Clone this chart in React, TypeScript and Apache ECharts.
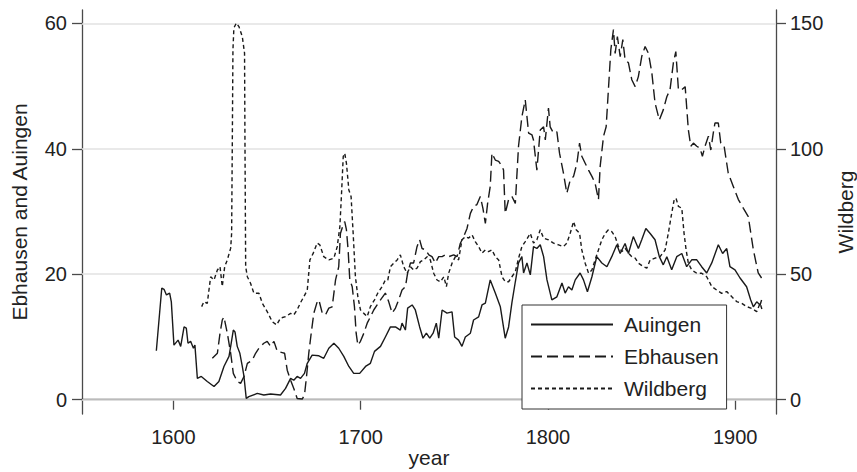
import React, { useEffect, useRef } from "react";
import * as echarts from "echarts";

// ---- Data ----
const auingen: [number, number][] = [
  [1590.9, 7.8], [1593.8, 17.8], [1595, 17.6], [1596.3, 16.7], [1598, 17.0], [1598.9, 15.6],
  [1600.3, 8.7], [1602.5, 9.5], [1603.9, 8.5], [1605.7, 11.6], [1606.9, 11.4], [1607.8, 9.0],
  [1609.2, 9.3], [1610.7, 8.2], [1611.5, 8.7], [1612.8, 3.4], [1614.9, 3.7], [1618.1, 2.9],
  [1621.7, 2.1], [1624.3, 2.9], [1627, 5.3], [1629.7, 6.9], [1630.6, 8.5], [1632, 11.1],
  [1632.9, 10.8], [1634.1, 8.5], [1635.5, 7.4], [1636.8, 5.3], [1637.7, 3.7], [1638.9, 0.2],
  [1640.3, 0.5], [1644.8, 1.0], [1648.3, 0.75], [1651.9, 0.9], [1657.2, 0.75], [1659.9, 1.8],
  [1662.6, 3.4], [1664.3, 3.1], [1666.1, 3.7], [1667.9, 3.4], [1670, 4.2], [1671.5, 5.8],
  [1674.1, 7.1], [1677.7, 7.0], [1680.3, 6.6], [1683, 8.2], [1685.7, 9.0], [1688.3, 8.2],
  [1691, 6.9], [1693.7, 5.3], [1696.3, 4.2], [1699.5, 4.2], [1702.6, 5.3], [1705.2, 5.8],
  [1707.4, 7.7], [1710.6, 8.5], [1713.2, 10.0], [1715.9, 11.6], [1718.6, 11.6], [1721.2, 11.1],
  [1722.1, 12.2], [1723.9, 11.1], [1725.1, 14.6], [1727.5, 15.1], [1729.2, 14.3], [1731.5, 11.6],
  [1733.3, 9.8], [1735.1, 10.6], [1736.9, 9.8], [1738.7, 10.6], [1740.4, 12.2], [1741.7, 9.8],
  [1743.5, 14.3], [1746.1, 13.8], [1748.8, 14.0], [1750.2, 10.0], [1752.3, 9.5], [1754.1, 8.5],
  [1755.9, 10.0], [1758.6, 10.6], [1760.3, 12.7], [1763, 13.2], [1764.8, 15.1], [1766.6, 15.4],
  [1769.2, 19.1], [1771.9, 17.0], [1774.6, 14.8], [1777.2, 9.8], [1779, 11.6], [1780.8, 15.5],
  [1782.6, 18.8], [1784.3, 21.8], [1786.1, 22.8], [1787, 20.2], [1788.8, 21.8], [1790.6, 19.9],
  [1792.3, 24.4], [1794.1, 24.1], [1795.9, 24.7], [1797.7, 22.8], [1799.5, 19.1], [1802.1, 15.9],
  [1804.8, 16.4], [1807.5, 18.6], [1809.2, 17.0], [1811, 18.0], [1812.8, 17.5], [1814.6, 19.1],
  [1817.2, 20.2], [1819, 19.1], [1821.1, 17.2], [1823.5, 19.6], [1826.1, 22.8], [1828.8, 21.8],
  [1831.5, 21.2], [1834.1, 22.8], [1836.8, 24.7], [1838.6, 23.3], [1841.2, 24.9], [1843, 23.3],
  [1845.6, 26.0], [1848.3, 24.1], [1850.1, 25.5], [1852.3, 27.3], [1854.6, 26.5], [1857.2, 25.5],
  [1859.5, 22.8], [1861.6, 21.5], [1863.5, 22.8], [1866.1, 20.7], [1868.8, 22.8], [1871.5, 23.3],
  [1874.1, 21.2], [1876.8, 22.3], [1879.5, 22.3], [1882.1, 21.2], [1884.8, 20.2], [1887.5, 21.8],
  [1891, 24.7], [1893.3, 23.3], [1895.5, 24.1], [1897.2, 21.2], [1899.9, 20.7], [1902.6, 19.4],
  [1906.1, 18.0], [1908.3, 15.9], [1909.7, 14.8], [1911.5, 15.6], [1913.3, 15.1], [1914.1, 15.9],
];

const ebhausen: [number, number][] = [
  [1620.8, 6.6], [1623.5, 7.4], [1624.9, 10.6], [1626.1, 12.7], [1627, 13.2], [1627.9, 11.9],
  [1628.8, 10.6], [1630.6, 7.4], [1632, 4.2], [1634.1, 2.9], [1635.9, 2.6], [1637.7, 3.7],
  [1639.5, 5.8], [1642.1, 6.3], [1643.9, 7.4], [1645.7, 8.2], [1648.3, 9.0], [1650.1, 9.3],
  [1651.9, 8.5], [1653.7, 9.3], [1655.5, 7.7], [1658.1, 7.5], [1659.4, 7.4], [1660.8, 4.7],
  [1662.6, 3.1], [1664.3, 1.8], [1666.1, 0.2], [1668.8, 0.1], [1670, 0.75], [1671.1, 3.7],
  [1672.3, 7.4], [1673.6, 10.6], [1675, 13.8], [1676.8, 15.6], [1677.7, 15.9], [1679.5, 13.8],
  [1681.2, 13.5], [1683, 14.6], [1684.8, 14.8], [1686.6, 19.1], [1688.3, 21.2], [1689.2, 26.5],
  [1690.7, 27.9], [1691.5, 28.4], [1692.4, 27.1], [1693.3, 23.9], [1694.2, 19.1], [1695.5, 18.0],
  [1696.7, 14.8], [1697.6, 10.6], [1698.5, 8.7], [1699.9, 9.3], [1701.7, 10.6], [1703.5, 12.2],
  [1705.2, 13.2], [1707, 14.3], [1708.8, 15.1], [1710.6, 15.9], [1713.2, 17.0], [1715, 15.6],
  [1716.8, 13.8], [1718.6, 14.6], [1720.3, 15.9], [1722.1, 17.5], [1723.9, 18.0], [1725.1, 20.2],
  [1726.6, 21.8], [1728.3, 21.8], [1730.1, 24.4], [1731.5, 25.5], [1732.8, 24.1], [1734.6, 23.9],
  [1736.4, 23.1], [1738.1, 22.8], [1739.9, 21.8], [1741.7, 22.8], [1743.5, 22.8], [1745.2, 23.1],
  [1747, 22.8], [1749.7, 23.1], [1751.5, 22.8], [1753.2, 24.9], [1755, 26.0], [1756.8, 27.3],
  [1758.6, 29.7], [1760.3, 30.8], [1762.1, 31.1], [1763.9, 32.4], [1765.3, 30.5], [1766.6, 28.1],
  [1767.8, 31.3], [1769.2, 34.0], [1770.1, 39.3], [1771.9, 38.2], [1773.7, 38.0], [1775.5, 37.2],
  [1776.3, 36.6], [1777.2, 29.7], [1779, 31.9], [1780.8, 32.4], [1782.6, 31.3], [1784.3, 40.4],
  [1786.1, 45.1], [1787.9, 47.8], [1789.7, 42.5], [1791.5, 42.2], [1792.3, 41.4], [1794.1, 36.6],
  [1795.9, 43.0], [1797.7, 43.5], [1798.6, 41.4], [1800.3, 46.5], [1801.2, 43.5], [1803, 42.5],
  [1804.8, 42.7], [1806.2, 39.3], [1808.3, 36.1], [1810.1, 32.9], [1811.9, 35.0], [1813.7, 35.6],
  [1815.5, 37.7], [1816.9, 40.9], [1818.1, 38.8], [1819.9, 37.7], [1821.7, 36.6], [1823.5, 35.6],
  [1825.2, 34.5], [1827, 31.9], [1827.9, 37.2], [1829.7, 42.0], [1831.1, 43.5], [1832.3, 49.4],
  [1833.6, 55.8], [1835, 59.0], [1835.9, 55.2], [1837.1, 57.9], [1838.6, 54.7], [1840, 57.4],
  [1841.2, 54.2], [1843, 53.7], [1844.8, 51.0], [1846.6, 49.9], [1848.3, 51.5], [1850.1, 54.7],
  [1851.9, 56.3], [1853.7, 55.2], [1855.5, 52.1], [1857.2, 47.3], [1859.5, 44.6], [1861.6, 46.2],
  [1863.5, 48.3], [1865.2, 49.4], [1867, 53.7], [1868.3, 55.5], [1869.7, 49.4], [1871.5, 49.4],
  [1873.3, 49.9], [1875, 43.0], [1876.3, 40.4], [1877.7, 40.9], [1879.5, 40.4], [1881.2, 40.1],
  [1882.5, 38.8], [1883.9, 40.4], [1885.7, 42.0], [1887, 39.8], [1888.3, 42.5], [1889.2, 44.1],
  [1891, 44.1], [1892.3, 40.9], [1894.1, 40.4], [1896.3, 36.1], [1899, 34.0], [1901.7, 31.9],
  [1904.4, 30.5], [1907, 29.2], [1909.7, 23.9], [1912.3, 20.2], [1914.1, 19.4],
];

const wildberg: [number, number][] = [
  [1615.1, 37.1], [1616.3, 39.1], [1618.1, 38.4], [1619.9, 49.0], [1621.7, 47.7], [1623.5, 51.7],
  [1624.9, 53.0], [1626.1, 45.1], [1627.4, 53.0], [1628.8, 55.7], [1630.6, 60.4], [1631.1, 66.3],
  [1631.5, 106.2], [1631.8, 139.4], [1632.3, 148.1], [1633.6, 150.1], [1635, 148.7], [1636.8, 144.7],
  [1638, 138.1], [1638.2, 106.2], [1638.6, 53.0], [1639.5, 49.0], [1641.2, 46.4], [1643, 42.4],
  [1645.7, 42.4], [1647.5, 38.4], [1650.1, 35.1], [1652.8, 31.1], [1655.1, 29.8], [1657.2, 32.5],
  [1659.9, 33.1], [1662.6, 34.4], [1664.3, 33.8], [1666.1, 35.8], [1667.9, 38.7], [1669.7, 41.1],
  [1671.5, 43.7], [1672.9, 55.7], [1674.7, 58.4], [1676.8, 62.4], [1678.2, 61.7], [1680.3, 57.0],
  [1683, 55.7], [1685.7, 56.4], [1687.5, 61.0], [1688.9, 69.0], [1689.8, 82.3], [1690.7, 96.9],
  [1691.5, 98.2], [1692.4, 94.3], [1693.7, 83.6], [1694.9, 80.9], [1696, 66.3], [1697.2, 49.0],
  [1698.5, 41.1], [1699.9, 35.8], [1701.7, 34.4], [1703.5, 33.1], [1705.2, 37.1], [1707.4, 39.8],
  [1709.1, 42.4], [1711.5, 45.1], [1713.2, 47.7], [1714.5, 47.7], [1715.9, 53.0], [1717.7, 54.4],
  [1719.5, 55.7], [1721.2, 57.7], [1723, 53.0], [1724.8, 50.4], [1726.6, 53.0], [1728.3, 51.7],
  [1730.1, 52.4], [1731.9, 55.0], [1733.7, 55.7], [1735.5, 57.0], [1737.2, 55.7], [1739, 50.4],
  [1740.8, 47.7], [1742.6, 47.0], [1744.4, 49.0], [1745.8, 45.1], [1747, 50.4], [1748.8, 54.4],
  [1750.6, 57.0], [1752.3, 55.7], [1754.1, 63.7], [1755.9, 65.0], [1757.7, 64.4], [1759.5, 65.7],
  [1761.2, 63.0], [1763, 61.0], [1764.8, 58.4], [1766.6, 59.7], [1768.3, 59.0], [1770.1, 59.7],
  [1771.9, 57.0], [1773.7, 55.7], [1775.5, 49.0], [1777.2, 47.0], [1779, 47.0], [1780.8, 49.0],
  [1782.6, 51.0], [1784.3, 56.3], [1786.1, 61.0], [1787.9, 63.0], [1790.6, 66.3], [1792.3, 62.4],
  [1794.1, 63.7], [1795.9, 67.7], [1797.7, 64.4], [1800.3, 63.7], [1803, 62.4], [1805.7, 61.7],
  [1808.3, 61.0], [1810.1, 62.4], [1811.9, 66.3], [1813.7, 71.0], [1815.1, 67.7], [1816.9, 66.3],
  [1818.1, 59.7], [1819.9, 54.4], [1821.7, 50.4], [1823.5, 51.7], [1825.2, 55.7], [1827, 59.7],
  [1828.8, 63.7], [1830.6, 66.3], [1832.3, 67.7], [1834.1, 67.0], [1835.9, 65.0], [1837.7, 61.0],
  [1839.5, 59.0], [1841.2, 60.4], [1843, 58.4], [1844.8, 57.0], [1846.6, 56.4], [1848.3, 54.4],
  [1851, 53.0], [1852.8, 52.4], [1854.6, 55.7], [1857.2, 56.4], [1859.9, 57.0], [1862.6, 59.7],
  [1864.3, 66.3], [1866.1, 74.3], [1867.4, 79.6], [1868.4, 80.3], [1869.7, 77.0], [1871.5, 76.3],
  [1872.7, 66.3], [1873.8, 59.7], [1875, 54.4], [1876.8, 51.7], [1879.5, 50.4], [1882.1, 50.4],
  [1884.8, 49.0], [1887.5, 45.1], [1890.1, 43.7], [1892.8, 42.4], [1895.5, 43.1], [1898.1, 41.1],
  [1900.8, 39.1], [1903.5, 38.4], [1906.1, 37.1], [1908.8, 36.4], [1911.5, 35.1], [1913.3, 38.4],
  [1914.7, 35.1],
];

const xTicks = [1600, 1700, 1800, 1900];
const leftTicks = [0, 20, 40, 60];
const rightTicks = [0, 50, 100, 150];
const seriesNames = ["Auingen", "Ebhausen", "Wildberg"];

export default function App() {
  const ref = useRef<HTMLDivElement>(null);

  useEffect(() => {
    if (!ref.current) return;
    const chart = echarts.init(ref.current, null, { renderer: "svg" });
    const font = "'Liberation Sans', Arial, Helvetica, sans-serif";
    const axisColor = "#4a4a4a";
    const textColor = "#222222";
    const lineColor = "#1a1a1a";
    const plain = (v: number) => String(v);

    const axisCommon = {
      axisLine: { show: true, lineStyle: { color: axisColor, width: 1.3 } },
      splitLine: { show: false },
      nameMoveOverlap: false,
    };

    chart.setOption({
      animation: false,
      backgroundColor: "#ffffff",
      textStyle: { fontFamily: font },
      grid: {
        left: 82,
        right: 81,
        top: 10,
        bottom: 58,
        containLabel: false,
        outerBoundsMode: "none",
      },
      xAxis: {
        type: "value",
        min: 1551.2,
        max: 1921.8,
        name: "year",
        nameLocation: "middle",
        nameGap: 33,
        nameTextStyle: { fontSize: 21, color: textColor, fontFamily: font },
        ...axisCommon,
        axisTick: { show: true, length: 10, customValues: xTicks, lineStyle: { color: axisColor, width: 1.3 } },
        axisLabel: { customValues: xTicks, formatter: plain, margin: 13, fontSize: 20, color: textColor, fontFamily: font },
      },
      yAxis: [
        {
          type: "value",
          position: "left",
          min: -2.28,
          max: 62.12,
          name: "Ebhausen and Auingen",
          nameLocation: "middle",
          nameRotate: 90,
          nameGap: 52,
          nameTextStyle: { fontSize: 21, color: textColor, fontFamily: font },
          ...axisCommon,
          axisTick: { show: true, length: 10, customValues: leftTicks, lineStyle: { color: axisColor, width: 1.3 } },
          axisLabel: { customValues: leftTicks, formatter: plain, margin: 15, fontSize: 20, color: textColor, fontFamily: font },
        },
        {
          type: "value",
          position: "right",
          min: -5.7,
          max: 155.3,
          alignTicks: false,
          name: "Wildberg",
          nameLocation: "middle",
          nameRotate: 90,
          nameGap: 59,
          nameTextStyle: { fontSize: 21, color: textColor, fontFamily: font },
          ...axisCommon,
          axisTick: { show: true, length: 10, customValues: rightTicks, lineStyle: { color: axisColor, width: 1.3 } },
          axisLabel: { customValues: rightTicks, formatter: plain, margin: 14, fontSize: 20, color: textColor, fontFamily: font },
        },
      ],
      legend: {
        orient: "vertical",
        left: 522,
        top: 305,
        padding: [9, 8, 10, 8],
        itemGap: 11,
        itemWidth: 82,
        itemHeight: 20,
        backgroundColor: "#ffffff",
        borderColor: "#333333",
        borderWidth: 1,
        borderRadius: 0,
        data: seriesNames,
        selectedMode: false,
        itemStyle: { opacity: 0 },
        textStyle: { fontSize: 21, color: textColor, fontFamily: font, padding: [0, 0, 0, 6], lineHeight: 20 },
      },
      series: [
        {
          name: "gridlines",
          type: "line",
          data: [],
          yAxisIndex: 0,
          silent: true,
          markLine: {
            silent: true,
            z: 1,
            symbol: "none",
            label: { show: false },
            emphasis: { disabled: true },
            lineStyle: { color: "#e2e2e2", width: 1.5, type: "solid" },
            data: leftTicks.map((v) => ({ yAxis: v })),
          },
        },
        {
          name: "Auingen",
          type: "line",
          data: auingen,
          yAxisIndex: 0,
          symbol: "none",
          z: 3,
          emphasis: { disabled: true },
          itemStyle: { color: lineColor },
          lineStyle: { color: lineColor, width: 1.4, type: "solid" },
        },
        {
          name: "Ebhausen",
          type: "line",
          data: ebhausen,
          yAxisIndex: 0,
          symbol: "none",
          z: 3,
          emphasis: { disabled: true },
          itemStyle: { color: lineColor },
          lineStyle: { color: lineColor, width: 1.4, type: [11, 5] },
        },
        {
          name: "Wildberg",
          type: "line",
          data: wildberg,
          yAxisIndex: 1,
          symbol: "none",
          z: 3,
          emphasis: { disabled: true },
          itemStyle: { color: lineColor },
          lineStyle: { color: lineColor, width: 1.4, type: [4, 3] },
        },
      ],
    });

    return () => chart.dispose();
  }, []);

  return (
    <div
      ref={ref}
      style={{ position: "fixed", left: 0, top: 0, width: 857, height: 472, background: "#fff" }}
    />
  );
}
